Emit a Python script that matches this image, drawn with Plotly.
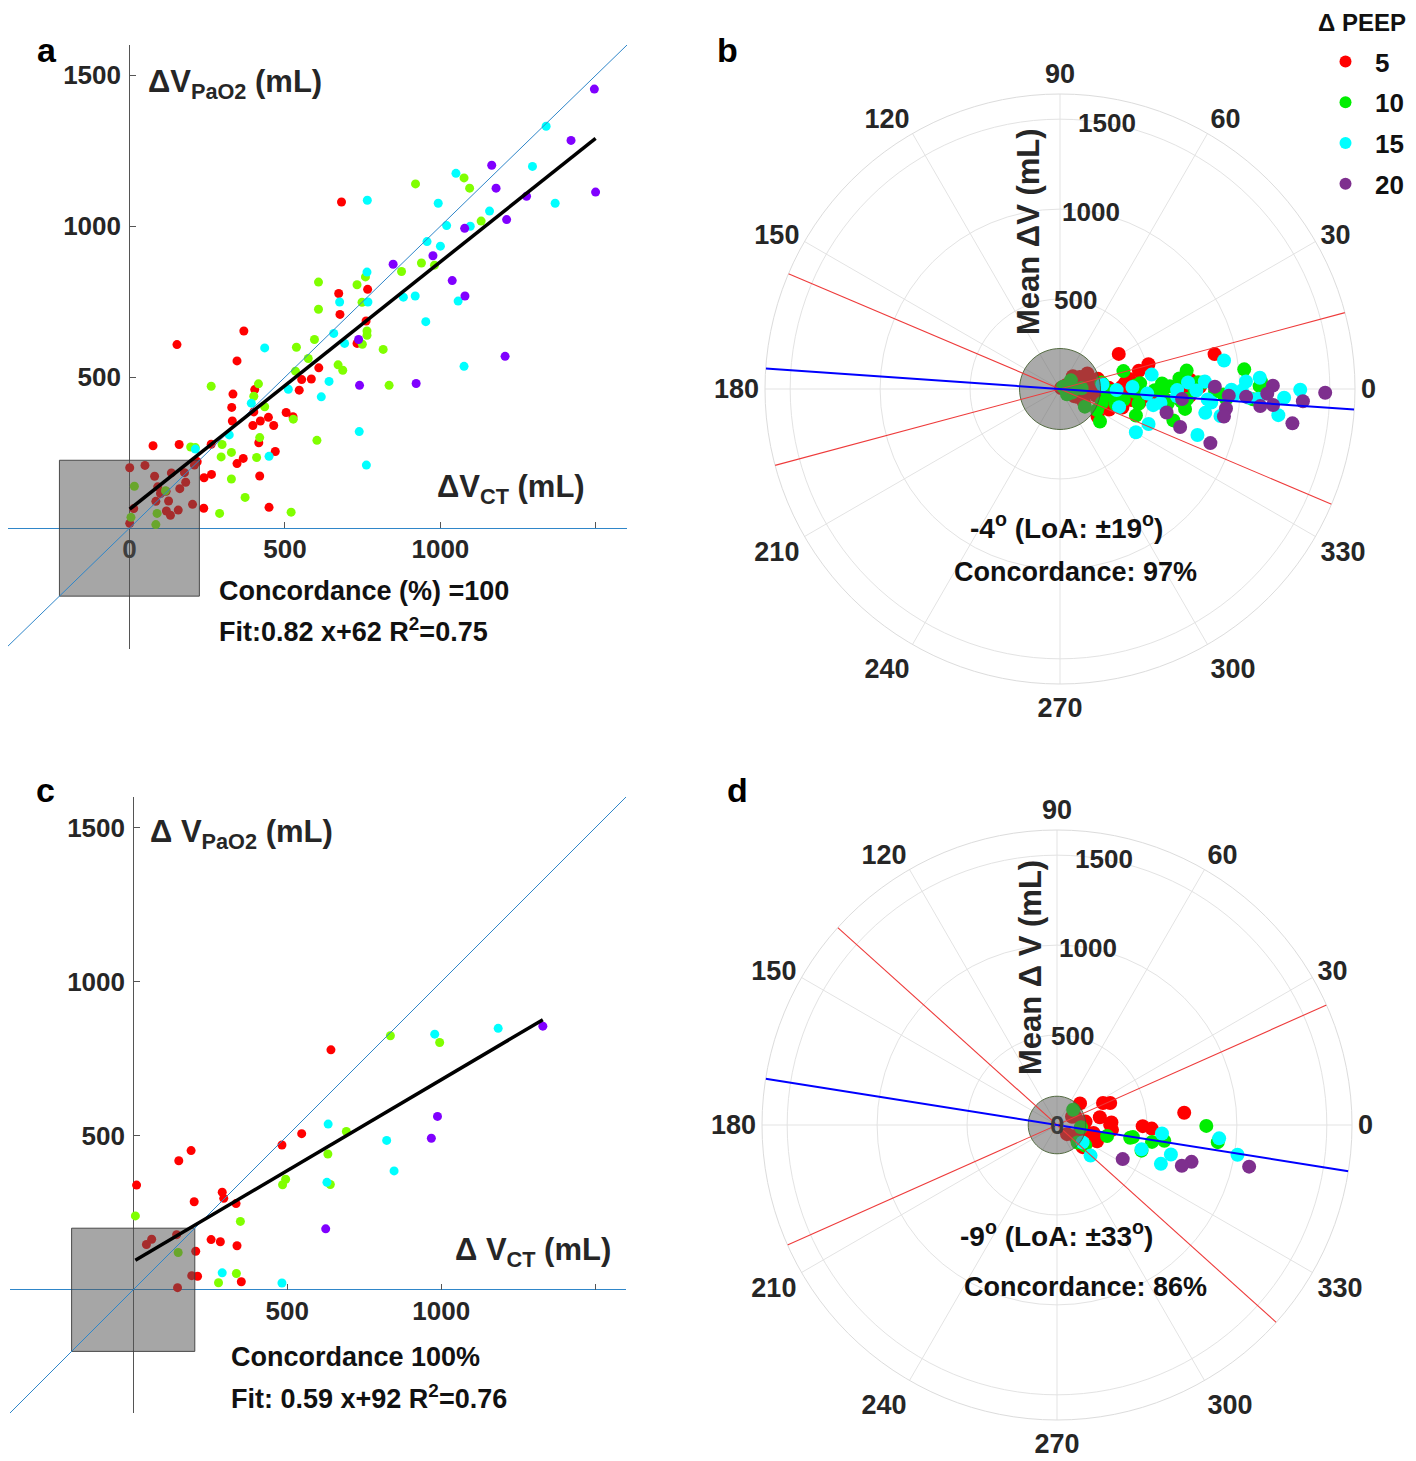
import numpy as np
import plotly.graph_objects as go

# ---------------- data ----------------
peep_levels = ["5", "10", "15", "20"]
colors_scatter = ["#ff0000", "#80ff00", "#00ffff", "#8000ff"]
colors_polar = ["#ff0000", "#00ee00", "#00ffff", "#7e2f8e"]

# Panel a (all patients): x = dV_CT, y = dV_PaO2 (mL)
a5_x = [682, 673, 766, 677, 761, 732, 368, 153, 346, 403, 333, 329, 331, 400, 397, 421, 447, 464, 504, 526,
        554, 585, 609, 546, 416, 469, 76, 160, 263, 366, 346, 419, 264, 240, 239, 449, 215, 218,
        1, 50, 81, 135, 177, 181, 162, 118, 91, 100, 126, 85, 119, 132, 157, 203, 14, 1, 209]
a5_y = [1080, 777, 791, 708, 686, 612, 653, 608, 554, 459, 444, 400, 355, 385, 340, 355, 367, 340, 383, 369,
        492, 494, 531, 457, 283, 254, 273, 277, 278, 231, 214, 173, 178, 167, 66, 69, 222, 220,
        200, 208, 172, 183, 184, 152, 131, 122, 137, 115, 90, 89, 57, 43, 60, 79, 65, 16, 209]
a10_x = [920, 1076, 1094, 1131, 939, 981, 875, 608, 732, 759, 748, 608, 764, 764, 749, 595, 816, 835,
         537, 575, 671, 686, 534, 415, 400, 263, 435, 527, 419, 603, 298, 197, 212, 295, 328, 409,
         328, 372, 290, 520, 16, 116, 89, 85, 5]
a10_y = [1140, 1160, 1126, 1017, 878, 871, 850, 815, 806, 832, 748, 725, 653, 639, 609, 625, 592, 473,
         599, 562, 541, 523, 520, 478, 437, 470, 402, 361, 300, 291, 277, 269, 267, 236, 251, 234,
         163, 102, 49, 53, 139, 124, 49, 12, 36]
a15_x = [1340, 1296, 1050, 765, 993, 1369, 1158, 1020, 1096, 957, 1000, 764, 676, 767, 881, 919, 1057, 953,
         657, 692, 435, 511, 617, 642, 392, 321, 449, 212, 739, 762, 1076]
a15_y = [1331, 1198, 1175, 1086, 1076, 1076, 1050, 1002, 1000, 949, 934, 848, 749, 749, 765, 769, 752, 684,
         645, 612, 597, 460, 435, 486, 414, 309, 238, 262, 320, 209, 536]
a20_x = [1495, 1420, 1165, 1179, 1499, 1277, 1213, 1078, 976, 848, 1038, 1079, 737, 740, 922, 1208]
a20_y = [1454, 1284, 1202, 1126, 1113, 1099, 1022, 993, 902, 874, 820, 769, 625, 473, 479, 569]

# Panel c (subgroup)
c5_x = [642, 547, 483, 188, 148, 11, 198, 289, 294, 334, 337, 283, 253, 203, 190, 209, 351, 141, 60, 43, 144]
c5_y = [779, 507, 470, 452, 419, 340, 286, 317, 297, 280, 143, 156, 163, 125, 46, 44, 26, 179, 164, 147, 7]
c10_x = [835, 995, 692, 632, 495, 485, 640, 7, 348, 146, 335, 277]
c10_y = [825, 803, 514, 441, 359, 341, 342, 240, 222, 121, 53, 23]
c15_x = [1185, 979, 633, 823, 847, 629, 289, 483]
c15_y = [849, 830, 538, 485, 386, 349, 55, 22]
c20_x = [1330, 988, 968, 625]
c20_y = [856, 563, 492, 198]

fit_a = (0.82, 62, 0.75)
fit_c = (0.59, 92, 0.76)
concordance_a = "100"
concordance_c = "100%"
polar_b = (-4, 19, "97%")   # mean angle, LoA, concordance
polar_d = (-9, 33, "86%")
box_a = 225
box_c = 200
circle_b = 225
circle_d = 160

axis_range = [-400, 1600]
x_tickvals = [0, 500, 1000, 1500]
x_ticktext_a = ["0", "500", "1000", ""]
x_ticktext_c = ["", "500", "1000", ""]
y_tickvals = [500, 1000, 1500]
y_ticktext = ["500", "1000", "1500"]
r_range = [0, 1640]
r_ticklabels_b = [500, 1000, 1500]
r_ticklabels_d = [0, 500, 1000, 1500]
r_gridvals = [500, 1000, 1500]
angle_ticks = list(range(0, 360, 30))
radial_label_angle = 80

# ---------------- figure ----------------
W, H = 1416, 1461
OFFX, OFFY = 8, 8  # page body margin of the html page


def px(x):
    return (x - OFFX) / W


def py(y):
    return 1 - (y - OFFY) / H


FONT = "Liberation Sans, Arial, sans-serif"
TXT = "#111111"
TICK = "#262626"

fig = go.Figure()

groups_a = [(a5_x, a5_y), (a10_x, a10_y), (a15_x, a15_y), (a20_x, a20_y)]
groups_c = [(c5_x, c5_y), (c10_x, c10_y), (c15_x, c15_y), (c20_x, c20_y)]


def add_cartesian(groups, xa, ya, box, fit):
    for (gx, gy), col in zip(groups, colors_scatter):
        fig.add_trace(go.Scatter(x=gx, y=gy, mode="markers", xaxis=xa, yaxis=ya,
                                 marker=dict(color=col, size=9, line=dict(width=0)),
                                 showlegend=False, hoverinfo="skip"))
    # exclusion box
    fig.add_trace(go.Scatter(x=[-box, box, box, -box, -box], y=[-box, -box, box, box, -box],
                             mode="lines", fill="toself", fillcolor="rgba(85,85,85,0.52)",
                             line=dict(color="rgba(60,60,60,0.9)", width=1),
                             xaxis=xa, yaxis=ya, showlegend=False, hoverinfo="skip"))
    # identity line
    fig.add_trace(go.Scatter(x=axis_range, y=axis_range, mode="lines",
                             line=dict(color="#2f86c9", width=1),
                             xaxis=xa, yaxis=ya, showlegend=False, hoverinfo="skip"))
    allx = np.concatenate([np.array(g[0], float) for g in groups])
    xs = np.array([allx.min(), allx.max()])
    fig.add_trace(go.Scatter(x=xs, y=fit[0] * xs + fit[1], mode="lines",
                             line=dict(color="#000000", width=3.5),
                             xaxis=xa, yaxis=ya, showlegend=False, hoverinfo="skip"))


add_cartesian(groups_a, "x", "y", box_a, fit_a)
add_cartesian(groups_c, "x2", "y2", box_c, fit_c)


def add_polar(groups, sub, circle, pstats, showlegend):
    R = r_range[1]
    for (gx, gy), col, name in zip(groups, colors_polar, peep_levels):
        gx = np.array(gx, float)
        gy = np.array(gy, float)
        r = (gx + gy) / 2.0
        th = np.degrees(np.arctan2(gy, gx)) - 45.0
        fig.add_trace(go.Scatterpolar(r=r, theta=th, mode="markers", subplot=sub, name=name,
                                      legendgroup=name,
                                      marker=dict(color=col, size=14, line=dict(width=0)),
                                      showlegend=showlegend, hoverinfo="skip"))
    circ_t = np.arange(0, 361, 5)
    fig.add_trace(go.Scatterpolar(r=[circle] * len(circ_t), theta=circ_t, mode="lines", fill="toself",
                                  fillcolor="rgba(100,100,100,0.55)",
                                  line=dict(color="rgba(70,95,50,0.9)", width=1),
                                  subplot=sub, showlegend=False, hoverinfo="skip"))
    mean, loa, _ = pstats
    for ang in (mean + loa, mean - loa):
        fig.add_trace(go.Scatterpolar(r=[R, R], theta=[ang, ang + 180], mode="lines",
                                      line=dict(color="#ee3b3b", width=1.1),
                                      subplot=sub, showlegend=False, hoverinfo="skip"))
    fig.add_trace(go.Scatterpolar(r=[R, R], theta=[mean, mean + 180], mode="lines",
                                  line=dict(color="#0000ff", width=2),
                                  subplot=sub, showlegend=False, hoverinfo="skip"))


add_polar(groups_a, "polar", circle_b, polar_b, True)
add_polar(groups_c, "polar2", circle_d, polar_d, False)

TS = 26
tickfont = dict(family=FONT, size=TS, color=TICK, weight="bold")


def clipped_domain(lo_px, hi_px, rng, vertical=False):
    """Convert a pixel span to a paper domain, trimming the part hidden by the page margin."""
    rng = list(rng)
    if not vertical and lo_px < OFFX:
        rng[0] = rng[0] + (OFFX - lo_px) * (rng[1] - rng[0]) / (hi_px - lo_px)
        lo_px = OFFX
    if vertical:
        return [py(hi_px), py(lo_px)], rng
    return [px(lo_px), px(hi_px)], rng


def xaxis_cfg(lo, hi, ypos, ticktext):
    dom, rng = clipped_domain(lo, hi, axis_range)
    return dict(domain=dom, range=rng, anchor="free", position=ypos,
                showgrid=False, zeroline=True, zerolinecolor="#555555", zerolinewidth=1,
                showline=False, tickmode="array", tickvals=x_tickvals, ticktext=ticktext,
                ticks="inside", ticklen=6, tickcolor="#555555", tickfont=tickfont,
                ticklabelstandoff=3, layer="below traces", fixedrange=True)


def yaxis_cfg(top, bottom, xpos):
    dom, rng = clipped_domain(top, bottom, axis_range, vertical=True)
    return dict(domain=dom, range=rng, anchor="free", position=xpos,
                showgrid=False, zeroline=True, zerolinecolor="#2f86c9", zerolinewidth=1.3,
                showline=False, tickmode="array", tickvals=y_tickvals, ticktext=y_ticktext,
                ticks="inside", ticklen=6, tickcolor="#555555", tickfont=tickfont,
                ticklabelstandoff=8, layer="below traces", fixedrange=True)


# polar geometry (page px): center and outer radius
POLARS = {"polar": (1060, 389, 295), "polar2": (1057, 1125, 295)}


def polar_cfg(key):
    cx, cy, rad = POLARS[key]
    return dict(
        domain=dict(x=[px(cx - rad), px(cx + rad)], y=[py(cy + rad), py(cy - rad)]),
        bgcolor="white",
        angularaxis=dict(rotation=0, direction="counterclockwise", tickmode="array",
                         tickvals=angle_ticks, ticktext=[str(a) for a in angle_ticks],
                         showgrid=True, gridcolor="#e3e3e3", gridwidth=1,
                         showline=True, linecolor="#dcdcdc", linewidth=1,
                         ticks="", tickfont=dict(family=FONT, size=27, color=TICK, weight="bold"),
                         layer="below traces"),
        radialaxis=dict(range=r_range, tickmode="array", tickvals=r_gridvals,
                        showticklabels=False, angle=radial_label_angle,
                        showgrid=True, gridcolor="#e3e3e3", gridwidth=1,
                        showline=False, ticks="", layer="below traces"),
    )


fig.update_layout(
    width=W, height=H,
    margin=dict(l=0, r=0, t=0, b=0),
    paper_bgcolor="white", plot_bgcolor="white",
    font=dict(family=FONT, color=TXT),
    xaxis=xaxis_cfg(5, 627, py(528), x_ticktext_a),
    yaxis=yaxis_cfg(45, 649, px(129)),
    xaxis2=xaxis_cfg(10, 626, py(1290), x_ticktext_c),
    yaxis2=yaxis_cfg(797, 1413, px(133)),
    polar=polar_cfg("polar"),
    polar2=polar_cfg("polar2"),
    legend=dict(x=px(1316), y=py(38), xanchor="left", yanchor="top",
                font=dict(family=FONT, size=26, color=TXT, weight="bold"),
                itemsizing="constant", itemwidth=49, tracegroupgap=4,
                bgcolor="rgba(0,0,0,0)"),
    showlegend=True,
)


def ann(text, x, y, size=27, xanchor="center", yanchor="middle", color=TXT, angle=0):
    fig.add_annotation(text=text, x=px(x), y=py(y), xref="paper", yref="paper",
                       xanchor=xanchor, yanchor=yanchor, showarrow=False, textangle=angle,
                       font=dict(family=FONT, size=size, color=color, weight="bold"))


# legend heading
fig.add_annotation(text="\u0394 PEEP", x=px(1362), y=1.0, xref="paper", yref="paper",
                   xanchor="center", yanchor="top", showarrow=False, borderpad=0,
                   font=dict(family=FONT, size=24, color=TXT, weight="bold"))

# radial tick labels (along the 80 degree direction, horizontal text)
for key, labels in (("polar", r_ticklabels_b), ("polar2", r_ticklabels_d)):
    cx, cy, rad = POLARS[key]
    scale = rad / r_range[1]
    a = np.radians(radial_label_angle)
    for v in labels:
        col = "#3c3c3c" if v == 0 else TICK
        ann(str(v), cx + v * scale * np.cos(a), cy - v * scale * np.sin(a), size=TS, color=col)

# panel letters
ann("a", 47, 50, size=34, color="#000000")
ann("b", 727, 50, size=34, color="#000000")
ann("c", 45, 790, size=34, color="#000000")
ann("d", 737, 790, size=34, color="#000000")

# panel a texts
ann("\u0394V<sub>PaO2</sub> (mL)", 146, 84, size=31, xanchor="left", color=TICK)
ann("\u0394V<sub>CT</sub> (mL)", 435, 489, size=31, xanchor="left", color=TICK)
ann(f"Concordance (%) ={concordance_a}", 217, 591, xanchor="left")
ann(f"Fit:{fit_a[0]} x+{fit_a[1]} R<sup>2</sup>={fit_a[2]}", 217, 630, xanchor="left")

# panel c texts
ann("\u0394 V<sub>PaO2</sub> (mL)", 148, 834, size=31, xanchor="left", color=TICK)
ann("\u0394 V<sub>CT</sub> (mL)", 453, 1252, size=31, xanchor="left", color=TICK)
ann(f"Concordance {concordance_c}", 229, 1357, xanchor="left")
ann(f"Fit: {fit_c[0]} x+{fit_c[1]} R<sup>2</sup>={fit_c[2]}", 229, 1397, xanchor="left")

# panel b texts
ann("Mean \u0394V (mL)", 1028, 232, size=31, angle=-90, color=TICK)
ann(f"{polar_b[0]}<sup>o</sup> (LoA: \u00b1{polar_b[1]}<sup>o</sup>)", 1066, 526, size=28)
ann(f"Concordance: {polar_b[2]}", 1075, 572)

# panel d texts
ann("Mean \u0394 V (mL)", 1030, 968, size=31, angle=-90, color=TICK)
ann(f"{polar_d[0]}<sup>o</sup> (LoA: \u00b1{polar_d[1]}<sup>o</sup>)", 1056, 1234, size=28)
ann(f"Concordance: {polar_d[2]}", 1085, 1287)

fig.write_html("out.html")
